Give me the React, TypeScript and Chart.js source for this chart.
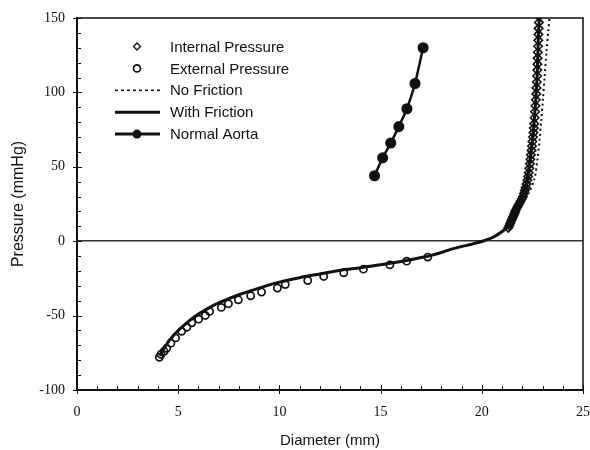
import { useEffect, useRef } from "react";
import { Chart, registerables } from "chart.js";

Chart.register(...registerables);

// Internal pressure (diamonds)
const internalX = [21.31, 21.36, 21.4, 21.45, 21.5, 21.55, 21.6, 21.64, 21.68, 21.74, 21.8, 21.86, 21.92, 21.98, 22.03, 22.08, 22.12, 22.17, 22.21, 22.25, 22.29, 22.32, 22.35, 22.38, 22.4, 22.43, 22.46, 22.48, 22.5, 22.53, 22.55, 22.57, 22.59, 22.61, 22.63, 22.65, 22.67, 22.69, 22.7, 22.72, 22.73, 22.74, 22.75, 22.76, 22.77, 22.78, 22.79, 22.8, 22.81, 22.82, 22.83];
const internalY = [9, 10.5, 12, 13.5, 15, 16.5, 18, 19.5, 21, 22.5, 24, 25.5, 27, 28.5, 30, 32, 34, 36, 38.5, 41, 43.5, 46, 49, 52, 55, 58, 61, 64, 67, 70, 73, 76, 79, 83, 87, 91, 95, 99, 103, 107, 111, 115, 119, 123, 127, 131, 135, 139, 143, 147, 151];

// External pressure (open circles)
const externalX = [4.07, 4.15, 4.3, 4.43, 4.64, 4.87, 5.17, 5.43, 5.67, 6.01, 6.34, 6.55, 7.13, 7.48, 7.97, 8.58, 9.12, 9.9, 10.29, 11.4, 12.19, 13.18, 14.15, 15.46, 16.29, 17.33];
const externalY = [-78, -76, -74, -72, -68.5, -65, -60.6, -57.8, -54.8, -52.4, -49.9, -47.2, -44.5, -42, -39.4, -36.7, -34.2, -31.5, -29.1, -26.4, -23.7, -21.2, -18.8, -15.9, -13.4, -10.7];

// No friction model (dotted)
const noFrictionX = [4.1, 4.3, 4.6, 5.0, 5.5, 6.0, 6.5, 7.0, 8.0, 9.0, 10.0, 11.0, 12.0, 13.0, 14.0, 15.0, 16.0, 17.0, 17.5, 18.0, 18.5, 19.0, 19.5, 20.1, 20.6, 21.0, 21.4, 21.8, 22.3, 22.6, 22.75, 22.85, 22.93, 23.02, 23.1, 23.2, 23.28, 23.36];
const noFrictionY = [-77, -72, -66, -60, -54, -49, -45, -41.5, -36, -31.5, -27.5, -24.5, -22, -19.5, -17.8, -15.8, -13.7, -11, -9.5, -7.6, -5.3, -3.6, -2, 0.3, 3, 6.5, 12, 21, 32, 42, 55, 68, 80, 95, 110, 128, 140, 152];

// With friction model (solid)
const frictionX = [4.1, 4.3, 4.6, 5.0, 5.5, 6.0, 6.5, 7.0, 8.0, 9.0, 10.0, 11.0, 12.0, 13.0, 14.0, 15.0, 16.0, 17.0, 17.5, 18.0, 18.5, 19.0, 19.5, 20.1, 20.6, 21.0, 21.35, 21.72, 22.0, 22.18, 22.42, 22.58, 22.73, 22.8, 22.85];
const frictionY = [-77, -72, -66, -60, -54, -49, -45, -41.5, -36, -31.5, -27.5, -24.5, -22, -19.5, -17.8, -15.8, -13.7, -11, -9.5, -7.6, -5.3, -3.6, -2, 0.3, 3, 6.5, 11, 22, 30, 36, 59, 79, 110, 140, 152];

// Normal aorta
const aortaX = [14.7, 15.1, 15.5, 15.9, 16.3, 16.7, 17.1];
const aortaY = [44, 56, 66, 77, 89, 106, 130];

const xTicks = [0, 5, 10, 15, 20, 25];
const yTicks = [-100, -50, 0, 50, 100, 150];

const legendLabels = ["Internal Pressure", "External Pressure", "No Friction", "With Friction", "Normal Aorta"];

const pts = (xs: number[], ys: number[]) => xs.map((x, i) => ({ x, y: ys[i] }));

const INK = "#111111";

const framePlugin = {
  id: "frameAndTicks",
  afterDraw(chart: any) {
    const { ctx, chartArea } = chart;
    const xs = chart.scales.x;
    const ys = chart.scales.y;
    ctx.save();
    ctx.strokeStyle = INK;
    // top & right frame
    ctx.lineWidth = 1.5;
    ctx.beginPath();
    ctx.moveTo(chartArea.left, chartArea.top);
    ctx.lineTo(chartArea.right, chartArea.top);
    ctx.lineTo(chartArea.right, chartArea.bottom);
    ctx.stroke();
    // y ticks
    ctx.lineWidth = 1;
    for (let v = -100; v <= 150; v += 10) {
      const py = Math.round(ys.getPixelForValue(v)) + 0.5;
      const major = v % 50 === 0;
      ctx.beginPath();
      ctx.moveTo(chartArea.left - (major ? 4 : 0), py);
      ctx.lineTo(chartArea.left + (major ? 5 : 4), py);
      ctx.stroke();
    }
    // x ticks
    for (let v = 0; v <= 25; v += 1) {
      const px = Math.round(xs.getPixelForValue(v)) + 0.5;
      const major = v % 5 === 0;
      ctx.beginPath();
      ctx.moveTo(px, chartArea.bottom + (major ? 4 : 0));
      ctx.lineTo(px, chartArea.bottom - (major ? 5 : 4));
      ctx.stroke();
    }
    // legend
    const left = chartArea.left;
    const top = chartArea.top;
    ctx.font = "15px 'Liberation Sans', Arial, sans-serif";
    ctx.textBaseline = "middle";
    ctx.textAlign = "left";
    ctx.fillStyle = INK;
    legendLabels.forEach((label, i) => {
      const y = top + 28.5 + i * 21.9;
      const mx = left + 60;
      const x0 = left + 38;
      const x1 = left + 83;
      ctx.strokeStyle = INK;
      ctx.setLineDash([]);
      if (i === 0) {
        ctx.lineWidth = 1.4;
        ctx.beginPath();
        ctx.moveTo(mx, y - 3.5);
        ctx.lineTo(mx + 3.5, y);
        ctx.lineTo(mx, y + 3.5);
        ctx.lineTo(mx - 3.5, y);
        ctx.closePath();
        ctx.stroke();
      } else if (i === 1) {
        ctx.lineWidth = 1.7;
        ctx.beginPath();
        ctx.arc(mx, y, 3.5, 0, Math.PI * 2);
        ctx.stroke();
      } else if (i === 2) {
        ctx.lineWidth = 1.6;
        ctx.setLineDash([3, 3]);
        ctx.beginPath();
        ctx.moveTo(x0, y);
        ctx.lineTo(x1, y);
        ctx.stroke();
        ctx.setLineDash([]);
      } else if (i === 3) {
        ctx.lineWidth = 3;
        ctx.beginPath();
        ctx.moveTo(x0, y);
        ctx.lineTo(x1, y);
        ctx.stroke();
      } else {
        ctx.lineWidth = 3;
        ctx.beginPath();
        ctx.moveTo(x0, y);
        ctx.lineTo(x1, y);
        ctx.stroke();
        ctx.fillStyle = INK;
        ctx.beginPath();
        ctx.arc(mx, y, 4.5, 0, Math.PI * 2);
        ctx.fill();
      }
      ctx.fillStyle = INK;
      ctx.fillText(label, left + 93, y + 1);
    });
    ctx.restore();
  },
};

export default function App() {
  const ref = useRef<HTMLCanvasElement | null>(null);

  useEffect(() => {
    document.body.style.margin = "0";
    const canvas = ref.current;
    if (!canvas) return;
    const chart = new Chart(canvas, {
      type: "scatter",
      data: {
        datasets: [
          {
            label: legendLabels[0],
            data: pts(internalX, internalY),
            showLine: false,
            pointStyle: "rectRot",
            pointRadius: 4.2,
            pointBorderWidth: 1.6,
            pointBorderColor: INK,
            pointBackgroundColor: "rgba(255,255,255,0)",
            order: 1,
          },
          {
            label: legendLabels[1],
            data: pts(externalX, externalY),
            showLine: false,
            pointStyle: "circle",
            pointRadius: 3.6,
            pointBorderWidth: 1.7,
            pointBorderColor: INK,
            pointBackgroundColor: "rgba(255,255,255,0)",
            order: 2,
          },
          {
            label: legendLabels[2],
            data: pts(noFrictionX, noFrictionY),
            showLine: true,
            borderColor: INK,
            borderWidth: 2,
            borderDash: [2, 3],
            pointRadius: 0,
            tension: 0.3,
            order: 4,
          },
          {
            label: legendLabels[3],
            data: pts(frictionX, frictionY),
            showLine: true,
            borderColor: INK,
            borderWidth: 3,
            pointRadius: 0,
            tension: 0.3,
            order: 3,
          },
          {
            label: legendLabels[4],
            data: pts(aortaX, aortaY),
            showLine: true,
            borderColor: INK,
            borderWidth: 2.5,
            pointRadius: 4.3,
            pointBackgroundColor: INK,
            pointBorderColor: INK,
            tension: 0.2,
            order: 0,
          },
        ],
      },
      options: {
        responsive: false,
        animation: false,
        devicePixelRatio: 1,
        layout: { padding: { top: 18, right: 7, left: 0, bottom: 0 } },
        plugins: {
          legend: { display: false },
          tooltip: { enabled: false },
        },
        scales: {
          x: {
            type: "linear",
            min: 0,
            max: 25,
            afterBuildTicks: (scale: any) => {
              scale.ticks = xTicks.map((v) => ({ value: v }));
            },
            afterFit: (scale: any) => {
              scale.height = 60;
              scale.paddingLeft = 0;
              scale.paddingRight = 0;
            },
            ticks: {
              padding: 14,
              color: INK,
              font: { family: "'Liberation Serif', 'Times New Roman', serif", size: 14 },
              maxRotation: 0,
            },
            grid: { display: false, drawTicks: false },
            border: { display: true, color: INK, width: 2 },
            title: {
              display: true,
              text: "Diameter (mm)",
              color: INK,
              font: { family: "'Liberation Sans', Arial, sans-serif", size: 15 },
              padding: { top: 0, bottom: 0 },
            },
          },
          y: {
            type: "linear",
            min: -100,
            max: 150,
            afterBuildTicks: (scale: any) => {
              scale.ticks = yTicks.map((v) => ({ value: v }));
            },
            afterFit: (scale: any) => {
              scale.width = 77;
              scale.paddingTop = 0;
              scale.paddingBottom = 0;
            },
            ticks: {
              padding: 12,
              color: INK,
              font: { family: "'Liberation Serif', 'Times New Roman', serif", size: 14 },
            },
            grid: {
              display: true,
              drawTicks: false,
              lineWidth: 1.5,
              color: (c: any) => (c.tick && c.tick.value === 0 ? "#333333" : "rgba(0,0,0,0)"),
            },
            border: { display: true, color: INK, width: 2 },
            title: {
              display: true,
              text: "Pressure (mmHg)",
              color: INK,
              font: { family: "'Liberation Sans', Arial, sans-serif", size: 16 },
              padding: { top: 9, bottom: 0 },
            },
          },
        },
      },
      plugins: [framePlugin],
    });
    return () => chart.destroy();
  }, []);

  return <canvas ref={ref} width={590} height={450} style={{ display: "block" }} />;
}
